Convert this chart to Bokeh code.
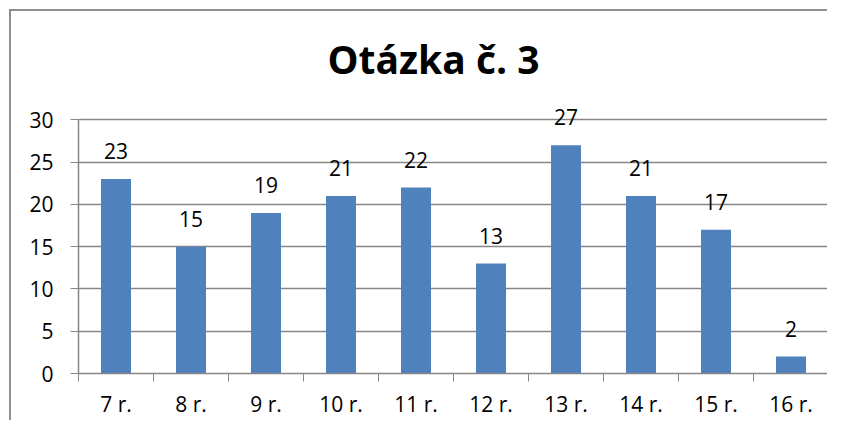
import numpy as np
from bokeh.plotting import figure
from bokeh.models import FixedTicker, Range1d, Label
from bokeh.core.properties import value
from bokeh.embed import file_html
from bokeh.resources import INLINE

title_text = "Otázka č. 3"
categories = ["7 r.", "8 r.", "9 r.", "10 r.", "11 r.", "12 r.", "13 r.", "14 r.", "15 r.", "16 r."]
counts = [23, 15, 19, 21, 22, 13, 27, 21, 17, 2]
y_ticks = [0, 5, 10, 15, 20, 25, 30]

FONT = "Open Sans"
GRID = "#868686"
BAR = "#4F81BD"

n = len(categories)
xs = np.arange(n) + 0.5

# layout (pixels)
W, H = 818, 409
MB_BOTTOM = 45
AXIS_SPAN_PX = 255          # height of the 0..30 value span
frame_h = H - MB_BOTTOM     # frame reaches the top of the chart area
y_top = max(y_ticks) * frame_h / AXIS_SPAN_PX

p = figure(width=W, height=H, output_backend="svg", toolbar_location=None,
           x_range=Range1d(0, n), y_range=Range1d(0, y_top),
           min_border_left=67, min_border_top=0, min_border_right=1, min_border_bottom=MB_BOTTOM)
p.styles = {"border-left": "2px solid #8e8e8e", "box-shadow": "0 -2px 0 0 #8e8e8e",
            "margin-left": "9px", "margin-top": "11px"}
p.outline_line_color = None
p.background_fill_color = "white"
p.border_fill_color = "white"

p.add_layout(Label(x=n / 2, y=max(y_ticks), text=title_text, text_align="center",
                   text_baseline="middle", x_offset=-20, y_offset=61,
                   text_font=FONT, text_font_style="bold", text_font_size="39px",
                   text_color="black"))

p.vbar(x=xs, top=counts, width=0.4, fill_color=BAR, line_color=None)
p.text(x=xs, y=counts, text=[str(c) for c in counts], text_align="center",
       text_baseline="middle", y_offset=-28, text_font=value(FONT),
       text_font_size="21px", text_color="black")

# x axis: labels at centres, ticks at boundaries
p.xaxis.ticker = FixedTicker(ticks=list(xs), minor_ticks=list(range(n + 1)))
p.xaxis.major_label_overrides = {float(x): c for x, c in zip(xs, categories)}
p.xaxis.major_tick_out = 0
p.xaxis.major_tick_in = 0
p.xaxis.minor_tick_out = 8
p.xaxis.minor_tick_in = 0
p.xaxis.minor_tick_line_color = GRID
p.xaxis.axis_line_color = GRID
p.xaxis.major_label_standoff = 8

p.yaxis.ticker = FixedTicker(ticks=y_ticks)
p.yaxis.bounds = (min(y_ticks), max(y_ticks))
p.yaxis.major_tick_out = 8
p.yaxis.major_tick_in = 0
p.yaxis.minor_tick_line_color = None
p.yaxis.major_tick_line_color = GRID
p.yaxis.axis_line_color = GRID
p.yaxis.major_label_standoff = 17

for ax in (p.xaxis, p.yaxis):
    ax.major_label_text_font = FONT
    ax.major_label_text_font_size = "21px"
    ax.major_label_text_color = "black"
    ax.axis_line_width = 1.5

p.xgrid.grid_line_color = None
p.ygrid.ticker = FixedTicker(ticks=y_ticks)
p.ygrid.grid_line_color = GRID
p.ygrid.grid_line_width = 1.5

open("out.html", "w").write(file_html(p, INLINE))
